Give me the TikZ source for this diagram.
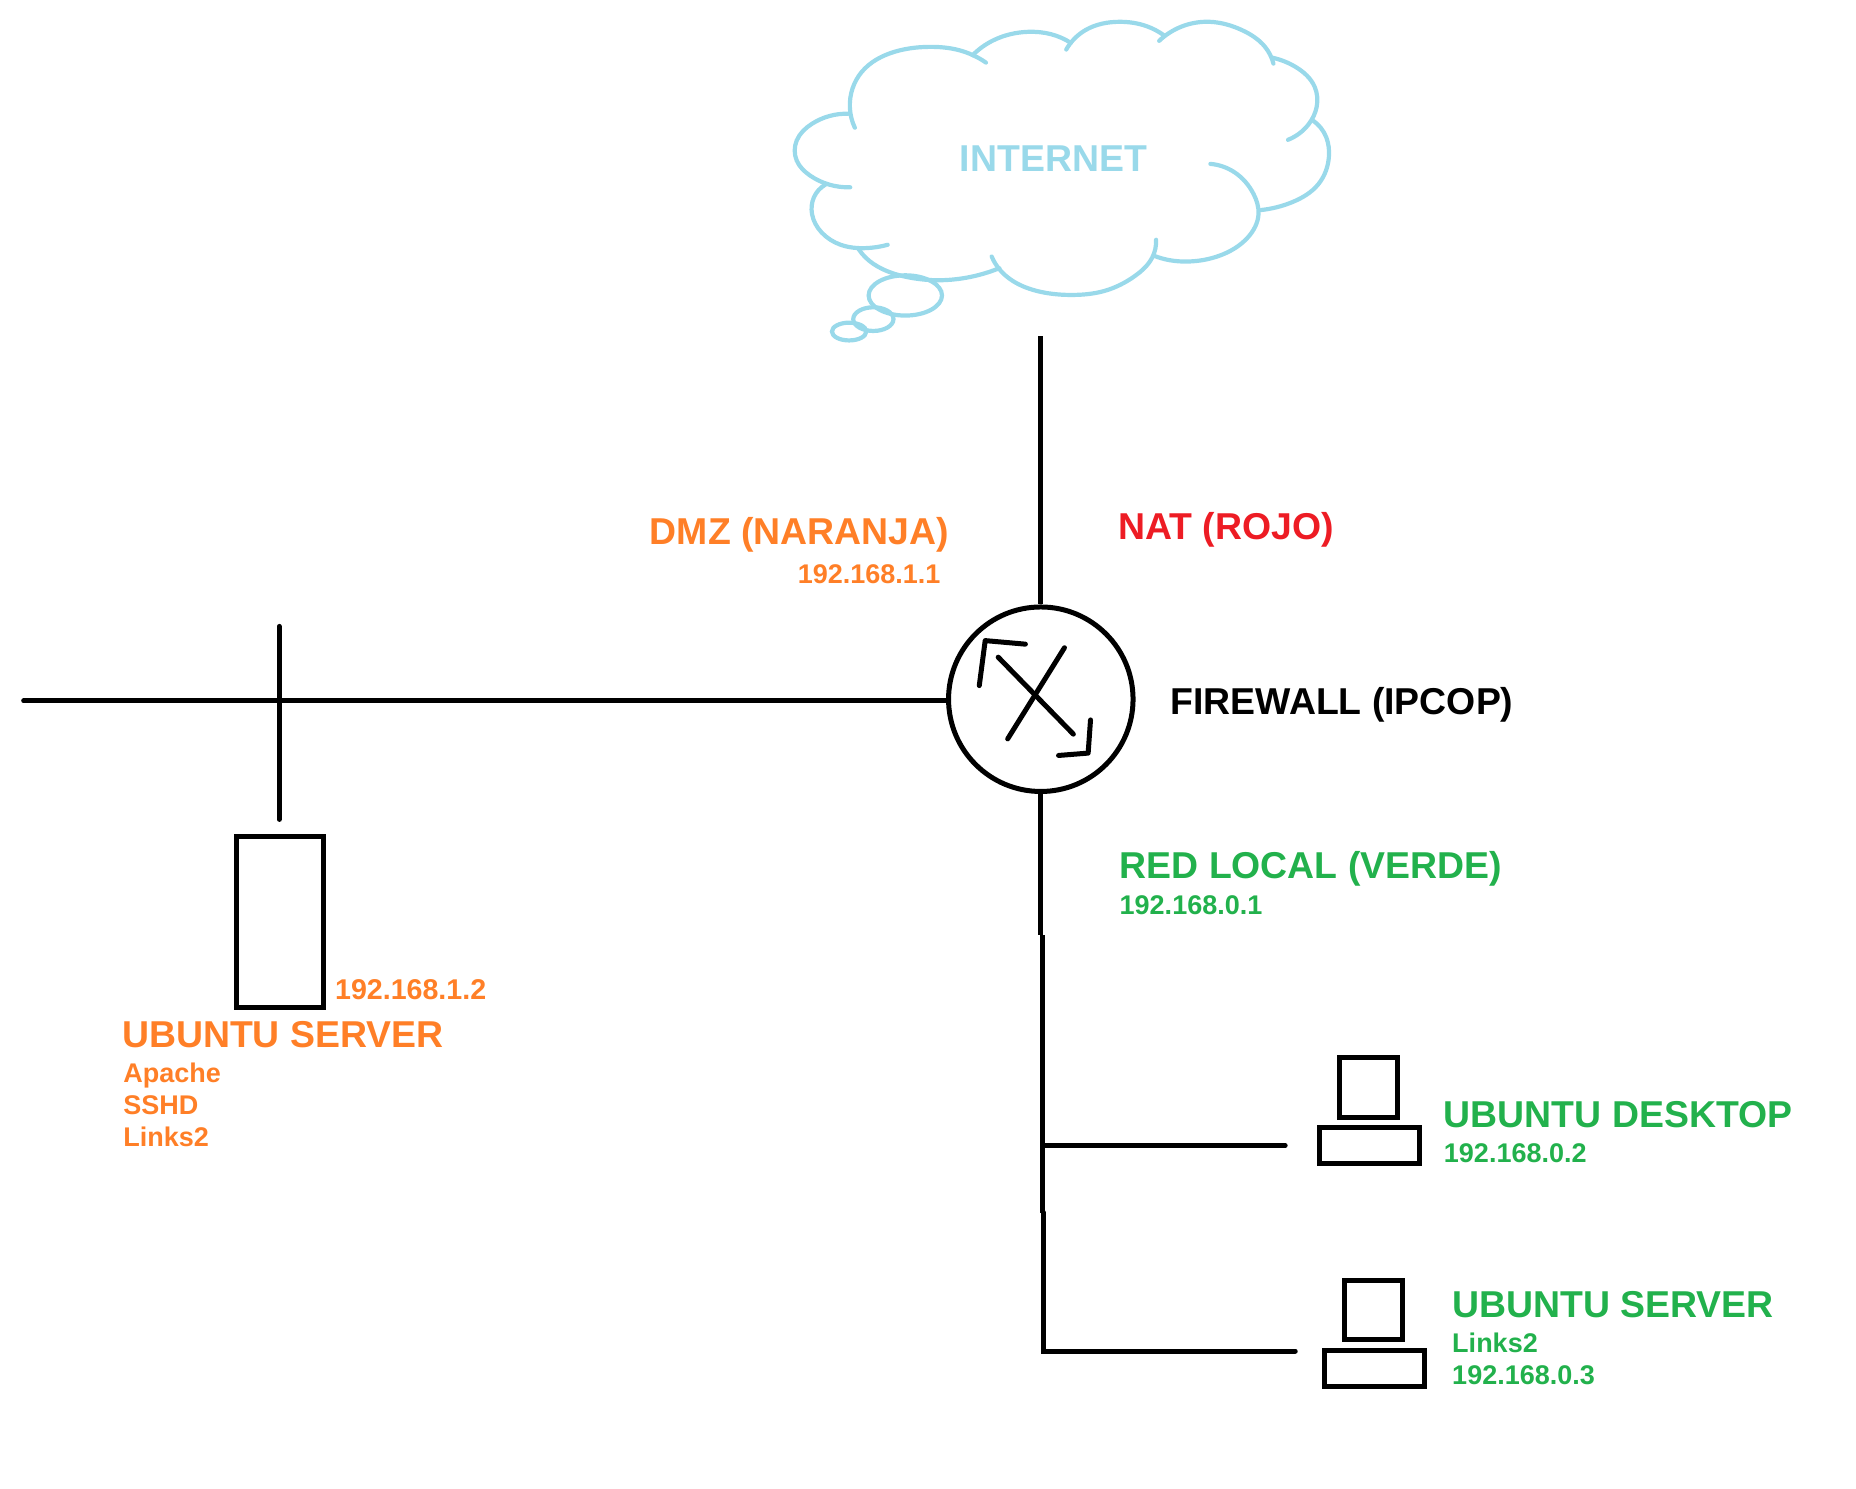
\documentclass[tikz,border=0pt]{standalone}
\usepackage{fontspec}
\usetikzlibrary{hobby}
\setmainfont{Liberation Sans}[BoldFont={Liberation Sans Bold}]
\definecolor{cOrange}{HTML}{FF7F27}
\definecolor{cRed}{HTML}{ED1C24}
\definecolor{cGreen}{HTML}{22B14C}
\definecolor{cSky}{HTML}{99D9EA}
\tikzset{
  wire/.style={draw=black,line width=5pt,line cap=round,line join=round},
  boxed/.style={draw=black,line width=5pt,line join=miter,rectangle,inner sep=0pt,anchor=north west},
  cloudline/.style={draw=cSky,line width=4.2pt,line cap=round},
  cloudarc/.style={cloudline,use Hobby shortcut},
  big/.style={anchor=base west,inner sep=0pt,font=\bfseries\fontsize{37.4}{40}\selectfont},
  small/.style={anchor=base west,inner sep=0pt,font=\bfseries\fontsize{27}{30}\selectfont},
}
\begin{document}
\begin{tikzpicture}[x=1.1834pt,y=-1.1841pt]
\useasboundingbox (0,0) rectangle (1568.36,1256.65);
% cloud
\begin{scope}[shift={(658.7,0.06)},x=.3823pt,y=-.3343pt]
\draw[cloudarc] (197,382)..(184,320)..(215,215)..(300,155)..(390,140)..(470,150)..(540,187);
\draw[cloudarc] (505,165)..(560,120)..(650,95)..(710,102)..(762,128);
\draw[cloudarc] (750,148)..(800,90)..(890,65)..(960,78)..(1005,105);
\draw[cloudarc] (993,122)..(1050,80)..(1125,65)..(1210,90)..(1270,140)..(1292,190);
\draw[cloudarc] (1288,172)..(1350,200)..(1400,260)..(1405,320)..(1385,370)..(1330,418);
\draw[cloudarc] (1395,360)..(1430,410)..(1437,470)..(1410,550)..(1340,605)..(1260,628);
\draw[cloudarc] (1127,490)..(1190,515)..(1240,580)..(1253,640)..(1225,710)..(1150,765)..(1070,782)..(1020,778)..(980,765);
\draw[cloudarc] (985,717)..(975,770)..(930,825)..(850,870)..(770,882)..(680,872)..(610,840)..(575,805)..(555,767);
\draw[cloudarc] (575,802)..(500,828)..(420,838)..(340,830)..(270,805)..(225,770)..(207,745);
\draw[cloudarc] (283,732)..(225,742)..(160,732)..(110,695)..(85,640)..(90,590)..(120,552);
\draw[cloudarc] (185,560)..(130,552)..(80,525)..(45,480)..(45,420)..(85,370)..(130,347)..(180,340);
\end{scope}
\draw[cloudline] (765,249.5) ellipse [x radius=31,y radius=17];
\draw[cloudline] (738,269.5) ellipse [x radius=17,y radius=10];
\draw[cloudline] (717.5,280) ellipse [x radius=14.5,y radius=7.5];
\node[big,text=cSky] (inet) at (811,144.5) {INTERNET};
% firewall
\node[circle,draw=black,line width=5pt,minimum size=184.5pt,inner sep=0pt] (fw) at (879.5,590.5) {};
\draw[wire] (843.5,555) -- (907,620);
\draw[wire] (899.5,547) -- (851.5,624);
\draw[wire] (827.5,579) -- (832.5,541) -- (866.5,544);
\draw[wire] (921.5,608) -- (919.5,636) -- (894.5,638);
\coordinate (inettail) at (879.5,284);
\coordinate (dmzend) at (20,592);
\coordinate (tapt) at (236,529);
\coordinate (tapb) at (236,692);
\coordinate (t1a) at (879.5,790);
\coordinate (t1b) at (881,790);
\coordinate (t2a) at (881,1024);
\coordinate (t2b) at (881.8,1024);
\coordinate (t3) at (881.8,1141);
\coordinate (br1a) at (881,967.4);
\coordinate (br1b) at (1086,967.4);
\coordinate (br2) at (1094.5,1141);
\draw[wire,line cap=butt] (inettail) -- (fw.north);
\draw[wire] (dmzend) -- (dmzend -| fw.west);
\draw[wire] (tapt) -- (tapb);
\draw[wire,line cap=butt] (fw.south) -- (t1a);
\draw[wire,line cap=butt] (t1b) -- (t2a);
\draw[wire,line join=miter] (t2b) -- (t3) -- (br2);
\draw[wire] (br1a) -- (br1b);
% server and hosts
\node[boxed,minimum width=87.5pt,minimum height=171pt] (srv) at (197.5,704.5) {};
\node[boxed,minimum width=58pt,minimum height=60pt] (mon1) at (1130,891) {};
\node[boxed,minimum width=100pt,minimum height=36pt] (base1) at (1113,950) {};
\node[boxed,minimum width=58pt,minimum height=59pt] (mon2) at (1134.3,1079.5) {};
\node[boxed,minimum width=100pt,minimum height=36pt] (base2) at (1117.4,1138.6) {};
% labels
\node[big,text=cOrange] (dmz) at (549,460) {DMZ (NARANJA)};
\node[small,text=cOrange] (dmzip) at (674,493) {192.168.1.1};
\node[big,text=cRed] (nat) at (945,456) {NAT (ROJO)};
\node[big,text=black] (fwl) at (989,603) {FIREWALL (IPCOP)};
\node[big,text=cGreen] (lan) at (946,742) {RED LOCAL (VERDE)};
\node[small,text=cGreen] (lanip) at (946,772) {192.168.0.1};
\node[small,text=cOrange,font=\bfseries\fontsize{28.6}{30}\selectfont] (srvip) at (283,844) {192.168.1.2};
\node[big,text=cOrange] (srvn) at (103,885) {UBUNTU SERVER};
\node[small,text=cOrange] (srva) at (104,914) {Apache};
\node[small,text=cOrange] (srvs) at (104,941) {SSHD};
\node[small,text=cOrange] (srvl) at (104,968) {Links2};
\node[big,text=cGreen] (h1n) at (1220,952) {UBUNTU DESKTOP};
\node[small,text=cGreen] (h1ip) at (1220,982) {192.168.0.2};
\node[big,text=cGreen] (h2n) at (1227,1113) {UBUNTU SERVER};
\node[small,text=cGreen] (h2l) at (1227,1142) {Links2};
\node[small,text=cGreen] (h2ip) at (1227,1169) {192.168.0.3};
\end{tikzpicture}
\end{document}
